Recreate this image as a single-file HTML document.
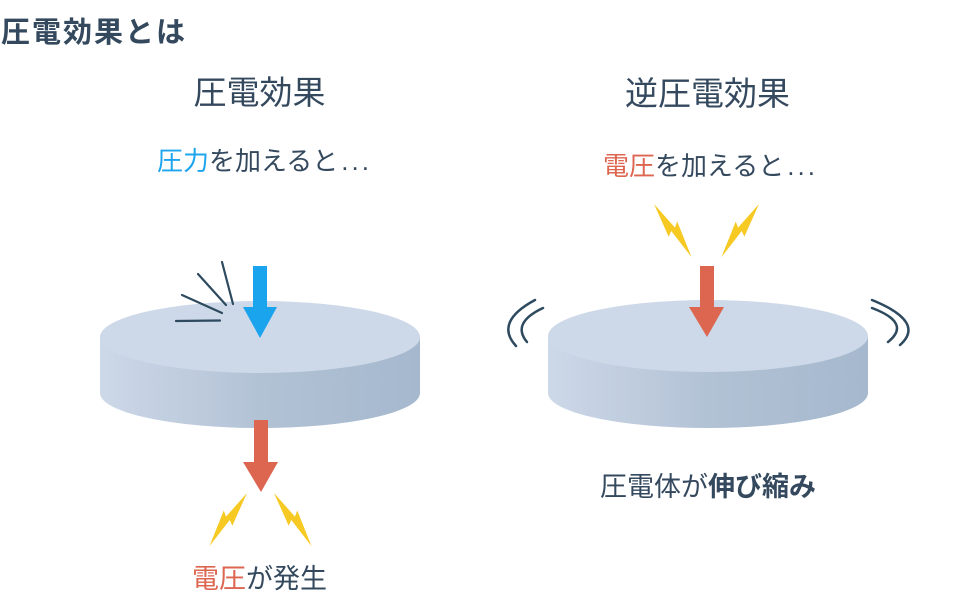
<!DOCTYPE html>
<html>
<head>
<meta charset="utf-8">
<style>
  html, body { margin:0; padding:0; background:#ffffff; }
  body { width:968px; height:598px; overflow:hidden; }
  svg { display:block; }
  text { font-family: "Liberation Sans", "Noto Sans CJK JP", sans-serif; fill:#34495e; }
</style>
</head>
<body>
<svg width="968" height="598" viewBox="0 0 968 598" xmlns="http://www.w3.org/2000/svg">
  <defs>
    <linearGradient id="side" x1="0" y1="0" x2="1" y2="0">
      <stop offset="0" stop-color="#cdd8e8"/>
      <stop offset="0.5" stop-color="#b2c2d5"/>
      <stop offset="1" stop-color="#a5b8cd"/>
    </linearGradient>
    <path id="bolt" d="M0,0 L8,35 L2.5,32 L2,65 L-8,28 L-2.5,31.5 Z"/>
  </defs>

  <!-- Title -->
  <text x="1" y="42" font-size="29" font-weight="bold" letter-spacing="2">圧電効果とは</text>

  <!-- Headings -->
  <text x="259.5" y="104" font-size="33" text-anchor="middle">圧電効果</text>
  <text x="707.5" y="105" font-size="33" text-anchor="middle">逆圧電効果</text>

  <!-- Subtitles -->
  <text x="157" y="170" font-size="26"><tspan fill="#1ea5ee">圧力</tspan>を加えると<tspan dx="3" letter-spacing="3">...</tspan></text>
  <text x="603" y="175" font-size="26"><tspan fill="#dc6650">電圧</tspan>を加えると<tspan dx="3" letter-spacing="3">...</tspan></text>

  <!-- Left disc -->
  <path d="M100,337 L100,393 A160,35 0 0 0 420,393 L420,337 Z" fill="url(#side)"/>
  <ellipse cx="260" cy="337" rx="160" ry="36" fill="#cdd9e9"/>

  <!-- impact lines -->
  <g stroke="#2e4a5f" stroke-width="2.2" stroke-linecap="round" fill="none">
    <line x1="222" y1="262" x2="233" y2="304"/>
    <line x1="198" y1="274" x2="226" y2="305"/>
    <line x1="182" y1="295" x2="222" y2="313"/>
    <line x1="176" y1="321" x2="220" y2="320.5"/>
  </g>

  <!-- blue arrow -->
  <rect x="253" y="266" width="14" height="43" fill="#1ba4ee"/>
  <polygon points="243,307 277,307 260,338" fill="#1ba4ee"/>

  <!-- red arrow below left -->
  <rect x="254" y="420" width="14" height="43" fill="#dc6650"/>
  <polygon points="243,462 278,462 261,492" fill="#dc6650"/>

  <!-- bolts left bottom -->
  <g fill="#f6c923">
    <use href="#bolt" transform="translate(247,493) rotate(37)"/>
    <use href="#bolt" transform="translate(274,493) rotate(-37) scale(-1,1)"/>
  </g>

  <text x="259.5" y="588" font-size="27" text-anchor="middle"><tspan fill="#dc6650">電圧</tspan>が発生</text>

  <!-- Right disc -->
  <path d="M548,336 L548,393 A160,35 0 0 0 868,393 L868,336 Z" fill="url(#side)"/>
  <ellipse cx="708" cy="336" rx="160" ry="36" fill="#cdd9e9"/>

  <!-- bolts right top -->
  <g fill="#f6c923">
    <use href="#bolt" transform="translate(654,204) rotate(-37) scale(-1,1)"/>
    <use href="#bolt" transform="translate(759,204) rotate(37)"/>
  </g>

  <!-- red arrow right -->
  <rect x="700" y="266" width="14" height="43" fill="#dc6650"/>
  <polygon points="689,307 724,307 707,337" fill="#dc6650"/>

  <!-- vibration waves -->
  <g stroke="#2e4a5f" stroke-width="2.5" stroke-linecap="round" fill="none">
    <path d="M535,300 Q494,322 516,346"/>
    <path d="M543,308 Q511,323 527,342"/>
    <path d="M872,300 Q926,322 900,345"/>
    <path d="M872,308 Q912,323 888,342"/>
  </g>

  <text x="708" y="496" font-size="27" text-anchor="middle">圧電体が<tspan font-weight="bold">伸び縮み</tspan></text>
</svg>
</body>
</html>
